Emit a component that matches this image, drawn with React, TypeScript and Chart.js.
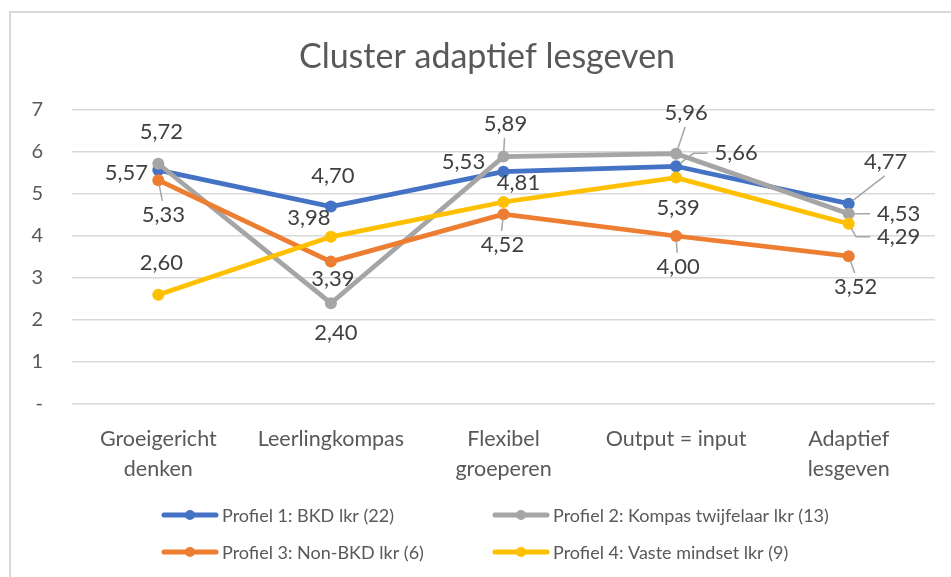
import React, { useEffect, useRef } from "react";
import { Chart, registerables } from "chart.js";

Chart.register(...registerables);

// ---------- data ----------
const chartTitle = "Cluster adaptief lesgeven";
const categories: (string | string[])[] = [
  ["Groeigericht", "denken"],
  "Leerlingkompas",
  ["Flexibel", "groeperen"],
  "Output = input",
  ["Adaptief", "lesgeven"],
];
const seriesNames = [
  "Profiel 1: BKD lkr (22)",
  "Profiel 2: Kompas twijfelaar lkr (13)",
  "Profiel 3: Non-BKD lkr (6)",
  "Profiel 4: Vaste mindset lkr (9)",
];
const profiel1 = [5.57, 4.7, 5.53, 5.66, 4.77];
const profiel2 = [5.72, 2.4, 5.89, 5.96, 4.53];
const profiel3 = [5.33, 3.39, 4.52, 4.0, 3.52];
const profiel4 = [2.6, 3.98, 4.81, 5.39, 4.29];
const yMin = 0;
const yMax = 7;
const yStep = 1;

// ---------- styling ----------
const seriesColors = ["#4472C4", "#A5A5A5", "#ED7D31", "#FFC000"];
const FONT = "Lato";
const TEXT_COLOR = "#595959";
const LABEL_COLOR = "#404040";
const LABEL_SIZE = 22;

// label placement relative to its point: [dx, dy, leader]
type Place = [number, number, string];
const labelPlacement: Place[][] = [
  [[-32, 3, ""], [2, -31, ""], [-40, -10, ""], [60, -13, "h"], [37, -42, "v"]],
  [[3, -32, ""], [5, 30, ""], [2, -33, "v"], [10, -41, "v"], [50, 0, "h"]],
  [[5, 35, "v"], [2, 17, ""], [-1, 31, "v"], [2, 31, "v"], [7, 31, "v"]],
  [[3, -32, ""], [-22, -19, ""], [15, -19, ""], [2, 30, ""], [50, 13, "h"]],
];

const framePlugin = {
  id: "frame",
  beforeDraw(chart: any) {
    const { ctx, width, height } = chart;
    ctx.save();
    ctx.fillStyle = "#ffffff";
    ctx.fillRect(0, 0, width, height);
    ctx.strokeStyle = "#D9D9D9";
    ctx.lineWidth = 2;
    ctx.beginPath();
    ctx.moveTo(10, height + 2);
    ctx.lineTo(10, 12);
    ctx.lineTo(width + 2, 12);
    ctx.stroke();
    ctx.restore();
  },
};

const titlePlugin = {
  id: "customTitle",
  afterDraw(chart: any) {
    const { ctx } = chart;
    ctx.save();
    ctx.font = `34px ${FONT}`;
    ctx.fillStyle = TEXT_COLOR;
    ctx.textAlign = "center";
    ctx.textBaseline = "middle";
    ctx.fillText(chartTitle, 487, 57);
    ctx.restore();
  },
};

const labelPlugin = {
  id: "pointLabels",
  afterDatasetsDraw(chart: any) {
    const { ctx } = chart;
    ctx.save();
    ctx.font = `${LABEL_SIZE}px ${FONT}`;
    ctx.textAlign = "center";
    ctx.textBaseline = "middle";
    chart.data.datasets.forEach((ds: any, di: number) => {
      const meta = chart.getDatasetMeta(di);
      meta.data.forEach((pt: any, i: number) => {
        const v = ds.data[i] as number;
        const text = v.toFixed(2).replace(".", ",");
        const [dx, dy, leader] = labelPlacement[di][i];
        const lx = pt.x + dx;
        const ly = pt.y + dy;
        const w = ctx.measureText(text).width;
        const h = LABEL_SIZE * 0.75;
        if (leader) {
          ctx.strokeStyle = "#A6A6A6";
          ctx.lineWidth = 1.5;
          ctx.beginPath();
          if (leader === "v") {
            const sign = dy < 0 ? -1 : 1;
            const tx = lx - 1;
            const ty = ly - sign * (h / 2 + 6);
            const len = Math.hypot(tx - pt.x, ty - pt.y) || 1;
            ctx.moveTo(pt.x + ((tx - pt.x) / len) * 5, pt.y + ((ty - pt.y) / len) * 5);
            ctx.lineTo(tx, ty);
          } else {
            const ex = lx - w / 2 - 7;
            const sx = ex - 14;
            const len = Math.hypot(sx - pt.x, ly - pt.y) || 1;
            ctx.moveTo(pt.x + ((sx - pt.x) / len) * 5, pt.y + ((ly - pt.y) / len) * 5);
            ctx.lineTo(sx, ly);
            ctx.lineTo(ex, ly);
          }
          ctx.stroke();
        }
        ctx.fillStyle = LABEL_COLOR;
        ctx.fillText(text, lx, ly);
      });
    });
    ctx.restore();
  },
};

const legendPlugin = {
  id: "customLegend",
  afterDraw(chart: any) {
    const { ctx } = chart;
    const colX = [162, 493];
    const rowY = [515, 552];
    ctx.save();
    ctx.font = `18px ${FONT}`;
    ctx.textAlign = "left";
    ctx.textBaseline = "middle";
    chart.data.datasets.forEach((ds: any, i: number) => {
      const x = colX[i % 2];
      const y = rowY[Math.floor(i / 2)];
      ctx.strokeStyle = ds.borderColor;
      ctx.lineWidth = 5;
      ctx.lineCap = "round";
      ctx.beginPath();
      ctx.moveTo(x + 2, y);
      ctx.lineTo(x + 54, y);
      ctx.stroke();
      ctx.fillStyle = ds.borderColor;
      ctx.beginPath();
      ctx.arc(x + 28, y, 5, 0, Math.PI * 2);
      ctx.fill();
      ctx.fillStyle = TEXT_COLOR;
      ctx.fillText(ds.label, x + 60, y + 1);
    });
    ctx.restore();
  },
};

export default function App() {
  const canvasRef = useRef<HTMLCanvasElement | null>(null);

  useEffect(() => {
    if (!canvasRef.current) return;
    const seriesData = [profiel1, profiel2, profiel3, profiel4];
    const chart = new Chart(canvasRef.current, {
      type: "line",
      data: {
        labels: categories,
        datasets: seriesData.map((d, i) => ({
          label: seriesNames[i],
          data: d,
          borderColor: seriesColors[i],
          backgroundColor: seriesColors[i],
          pointBackgroundColor: seriesColors[i],
          pointBorderColor: seriesColors[i],
          borderWidth: 4.75,
          pointRadius: 6,
          pointBorderWidth: 0,
          tension: 0,
          fill: false,
          order: 4 - i,
          clip: false as any,
        })),
      },
      options: {
        responsive: false,
        animation: false,
        layout: { padding: { top: 110, left: 10, right: 16, bottom: 93 } },
        plugins: {
          legend: { display: false },
          title: { display: false },
          tooltip: { enabled: false },
        },
        scales: {
          x: {
            offset: true,
            grid: { display: false },
            border: { display: false },
            ticks: {
              color: TEXT_COLOR,
              font: { family: FONT, size: 21.5, lineHeight: 1.4 },
              padding: 12,
              maxRotation: 0,
              autoSkip: false,
            },
            afterFit: (s: any) => {
              s.height = 80;
            },
          },
          y: {
            min: yMin,
            max: yMax,
            ticks: {
              stepSize: yStep,
              color: TEXT_COLOR,
              font: { family: FONT, size: 20 },
              padding: 29,
              callback: (v: any) => (Number(v) === 0 ? "-" : String(v)),
            },
            grid: { color: "#D9D9D9", lineWidth: 1.5, drawTicks: false },
            border: { display: false },
            afterFit: (s: any) => {
              s.width = 62;
            },
          },
        },
      },
      plugins: [framePlugin, labelPlugin, titlePlugin, legendPlugin],
    });
    return () => chart.destroy();
  }, []);

  return (
    <div style={{ position: "fixed", left: 0, top: 0, width: 951, height: 577, background: "#fff" }}>
      <canvas ref={canvasRef} width={951} height={577} style={{ display: "block" }} />
    </div>
  );
}
